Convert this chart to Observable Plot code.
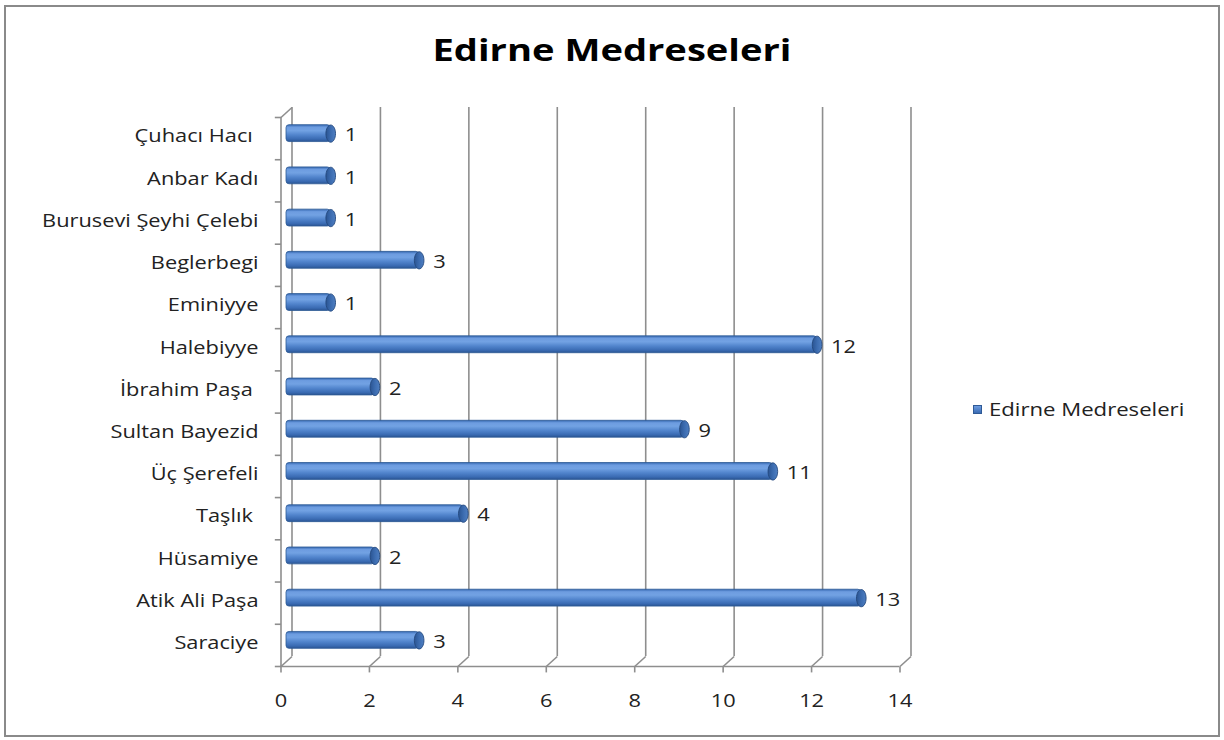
<!DOCTYPE html>
<html>
<head>
<meta charset="utf-8">
<script src="https://cdn.jsdelivr.net/npm/d3@7"></script>
<script src="https://cdn.jsdelivr.net/npm/@observablehq/plot@0.6"></script>
<style>
  body { margin: 0; background: #fff; font-family: "Open Sans", Lato, sans-serif; }
  #wrap { position: relative; width: 1224px; height: 740px; overflow: hidden; }
  #frame { position: absolute; left: 4px; top: 5px; width: 1216px; height: 732px; box-sizing: border-box; border: 2px solid #8a8a8a; }
  #title { position: absolute; left: 0; top: 27px; width: 1224px; text-align: center; font-size: 31px; font-weight: 700; color: #000; line-height: 44px; transform: scaleX(1.23); transform-origin: 612px 50%; }
  #chart { position: absolute; left: 0; top: 90px; }
  #chart svg text { white-space: pre; }
  #legend { position: absolute; left: 973px; top: 397px; font-size: 18px; color: #222; display: flex; align-items: center; white-space: nowrap; }
  #legend span { display: inline-block; transform: scaleX(1.23); transform-origin: 0 50%; }
  #legend .sw { width: 9px; height: 9px; margin-right: 7px; background: linear-gradient(#6d9ce0, #3a6bb3); border: 1px solid #2f5a96; box-sizing: border-box; }
</style>
</head>
<body>
<div id="wrap">
  <div id="frame"></div>
  <div id="title">Edirne Medreseleri</div>
  <div id="chart"></div>
  <div id="legend"><div class="sw"></div><span>Edirne Medreseleri</span></div>
</div>
<script>
// categories listed bottom to top
const categories = ["Saraciye", "Atik Ali Paşa", "Hüsamiye", "Taşlık ", "Üç Şerefeli", "Sultan Bayezid", "İbrahim Paşa ", "Halebiyye", "Eminiyye", "Beglerbegi", "Burusevi Şeyhi Çelebi", "Anbar Kadı", "Çuhacı Hacı "];
const values = [3, 13, 2, 4, 11, 9, 2, 12, 1, 3, 1, 1, 1];
const xTicks = [0, 2, 4, 6, 8, 10, 12, 14];
const seriesName = "Edirne Medreseleri";

const data = categories.map((c, i) => ({name: c, value: values[i], idx: i}));
const boundaries = d3.range(-0.5, categories.length, 1);

// 3D depth (half-depth) in data units
const DX = 5.5 / 44.2, DY = 5 / 42.23;
const grid = "#8e8e8e";

const ellipse = {
  draw(ctx) {
    const rx = 4.8, ry = 8.6, k = 0.5523;
    ctx.moveTo(rx, 0);
    ctx.bezierCurveTo(rx, ry * k, rx * k, ry, 0, ry);
    ctx.bezierCurveTo(-rx * k, ry, -rx, ry * k, -rx, 0);
    ctx.bezierCurveTo(-rx, -ry * k, -rx * k, -ry, 0, -ry);
    ctx.bezierCurveTo(rx * k, -ry, rx, -ry * k, rx, 0);
    ctx.closePath();
  }
};

const chart = Plot.plot({
  width: 1224,
  height: 640,
  marginLeft: 286,
  marginRight: 319,
  marginTop: 22,
  marginBottom: 69,
  x: {domain: [0, 14], axis: null},
  y: {domain: [-0.5, categories.length - 0.5], axis: null},
  style: {fontFamily: "'Open Sans', Lato, sans-serif", background: "transparent"},
  marks: [
    // back wall gridlines
    Plot.ruleX(xTicks, {x: d => d, y1: -0.5, y2: categories.length - 0.5, dx: 5.5, dy: -5, stroke: grid, strokeWidth: 1.6}),
    // depth diagonals along the floor
    Plot.link(xTicks, {x1: d => d - DX, x2: d => d + DX, y1: -0.5 - DY, y2: -0.5 + DY, stroke: grid, strokeWidth: 1.6}),
    // top-left diagonal
    Plot.link([0], {x1: d => d - DX, x2: d => d + DX, y1: categories.length - 0.5 - DY, y2: categories.length - 0.5 + DY, stroke: grid, strokeWidth: 1.6}),
    // front axis lines
    Plot.ruleX([0], {y1: -0.5, y2: categories.length - 0.5, dx: -5.5, dy: 5, stroke: grid, strokeWidth: 1.6}),
    Plot.ruleY([-0.5], {x1: 0, x2: 14, dx: -5.5, dy: 5, stroke: grid, strokeWidth: 1.6}),
    // front ticks
    Plot.link(xTicks, {x1: d => d, x2: d => d, y1: -0.5, y2: -0.5 - 0.14, dx: -5.5, dy: 5, stroke: grid, strokeWidth: 1.6}),
    Plot.link(boundaries, {x1: -0.14, x2: 0, y1: d => d, y2: d => d, dx: -5.5, dy: 5, stroke: grid, strokeWidth: 1.6}),
    // cylinder bodies
    Plot.rect(data, {x1: 0, x2: "value", y1: d => d.idx - 0.2, y2: d => d.idx + 0.2, fill: "url(#cylBody)", stroke: "#2d5a96", strokeWidth: 0.8, rx: 3}),
    // cylinder end caps
    Plot.dot(data, {x: "value", y: "idx", symbol: ellipse, r: 5, fill: "url(#cylCap)", stroke: "#24487e", strokeWidth: 0.9}),
    // value labels
    Plot.text(data, {x: "value", y: "idx", text: d => String(d.value), dx: 14, dy: 2, textAnchor: "start", fontSize: 18, fill: "#222"}),
    // category labels
    Plot.text(data, {x: 0, y: "idx", text: "name", dx: -28, dy: 3, textAnchor: "end", fontSize: 18, fill: "#222"}),
    // x tick labels
    Plot.text(xTicks, {x: d => d, y: -0.5, text: d => String(d), dx: -5.5, dy: 40, fontSize: 18, fill: "#222"})
  ]
});

// gradients for the 3D cylinders
const defs = d3.select(chart).insert("defs", ":first-child");
const g1 = defs.append("linearGradient").attr("id", "cylBody").attr("x1", 0).attr("y1", 0).attr("x2", 0).attr("y2", 1);
[[0, "#3467b0"], [0.15, "#6d9ce0"], [0.35, "#72a2e3"], [0.6, "#5285cd"], [0.85, "#3a6bb3"], [1, "#2b5593"]]
  .forEach(([o, c]) => g1.append("stop").attr("offset", o).attr("stop-color", c));
const g2 = defs.append("linearGradient").attr("id", "cylCap").attr("x1", 0).attr("y1", 0).attr("x2", 1).attr("y2", 0);
[[0, "#2a5492"], [0.5, "#3c6cb0"], [1, "#4f7fc2"]]
  .forEach(([o, c]) => g2.append("stop").attr("offset", o).attr("stop-color", c));

document.getElementById("chart").appendChild(chart);
document.querySelector("#legend span").textContent = seriesName;

// widen glyphs horizontally like the reference's stretched text
d3.select(chart).selectAll("text").each(function () {
  const L = this.getComputedTextLength();
  if (L > 0) {
    this.setAttribute("textLength", (L * 1.21).toFixed(1));
    this.setAttribute("lengthAdjust", "spacingAndGlyphs");
  }
});
</script>
</body>
</html>
